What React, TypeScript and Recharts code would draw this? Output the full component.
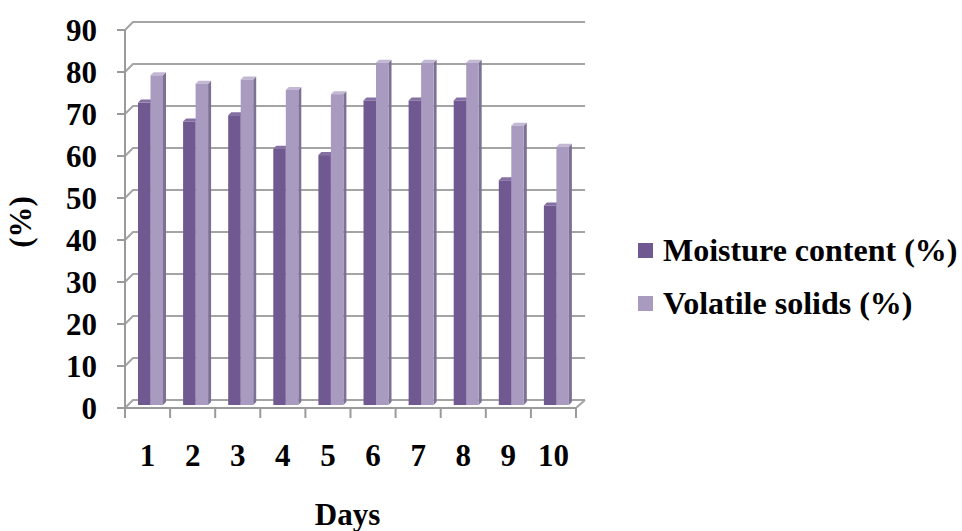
import React from 'react';
import { BarChart, Bar, XAxis, YAxis, CartesianGrid, Legend, Label } from 'recharts';

const days = ['1', '2', '3', '4', '5', '6', '7', '8', '9', '10'];
const moisture = [72, 67.5, 69, 61, 59.5, 72.5, 72.5, 72.5, 53.5, 47.5];
const volatileSolids = [78.5, 76.5, 77.5, 75, 74, 81.5, 81.5, 81.5, 66.5, 61.5];
const yTicks = [0, 10, 20, 30, 40, 50, 60, 70, 80, 90];

const data = days.map((d, i) => ({ day: d, moisture: moisture[i], volatile: volatileSolids[i] }));

const FONT = '"Liberation Serif", "Times New Roman", serif';
const GRID = '#a4a4a4';
const AXIS = '#9a9a9a';
const DEPTH = 8;
const BAR_D = 3;
const PLOT_W = 451;

const make3DBar = (front: string, side: string, top: string) => (props: any) => {
  const { x, y, width, height } = props;
  if (!height || height <= 0) return <g />;
  const fx = x + BAR_D;
  const fy = y - BAR_D;
  const d = BAR_D;
  return (
    <g>
      <polygon
        points={`${fx + width},${fy} ${fx + width + d},${fy - d} ${fx + width + d},${fy + height - d} ${fx + width},${fy + height}`}
        fill={side}
      />
      <polygon
        points={`${fx},${fy} ${fx + d},${fy - d} ${fx + width + d},${fy - d} ${fx + width},${fy}`}
        fill={top}
      />
      <rect x={fx} y={fy} width={width} height={height} fill={front} />
    </g>
  );
};

const gridLine = (props: any) => {
  const { x1, y1, x2, y2, index } = props;
  let d = `M${x1},${y1} L${x1 + DEPTH},${y1 - DEPTH} L${x2 + DEPTH + 1},${y2 - DEPTH}`;
  if (y1 >= 405) {
    d += ` M${x2},${y2} L${x2 + DEPTH + 1},${y2 - DEPTH}`;
  }
  return <path key={`g-${index}`} d={d} stroke={GRID} strokeWidth={2} fill="none" />;
};

const XTick = (props: any) => {
  const { x, y, payload, index } = props;
  const step = PLOT_W / days.length;
  const axisY = y;
  const left = x - step / 2;
  const right = x + step / 2;
  return (
    <g>
      <line x1={left} y1={axisY} x2={left} y2={axisY + 10} stroke={AXIS} strokeWidth={2} />
      {index === days.length - 1 && (
        <line x1={right} y1={axisY} x2={right} y2={axisY + 10} stroke={AXIS} strokeWidth={2} />
      )}
      <text
        x={x}
        y={axisY + 58}
        textAnchor="middle"
        fontFamily={FONT}
        fontWeight="bold"
        fontSize={31}
        fill="#000"
      >
        {payload.value}
      </text>
    </g>
  );
};

const LegendContent = (props: any) => {
  const payload = props.payload || [];
  return (
    <div style={{ fontFamily: FONT, fontWeight: 'bold', fontSize: 32, color: '#000' }}>
      {payload.map((p: any, i: number) => (
        <div key={i} style={{ display: 'flex', alignItems: 'center', height: 53, whiteSpace: 'nowrap' }}>
          <span style={{ display: 'inline-block', width: 15, height: 15, background: p.color, marginRight: 10 }} />
          <span>{p.value}</span>
        </div>
      ))}
    </div>
  );
};

export default function App() {
  return (
    <div style={{ position: 'absolute', left: 0, top: 0, background: '#fff' }}>
      <BarChart
        width={962}
        height={531}
        data={data}
        margin={{ top: 30, right: 386, bottom: 0, left: 0 }}
        barGap={0}
        barSize={12.5}
      >
        <CartesianGrid vertical={false} horizontal={gridLine} />
        <XAxis
          dataKey="day"
          type="category"
          interval={0}
          height={123}
          tick={<XTick />}
          tickSize={0}
          tickMargin={0}
          tickLine={false}
          axisLine={{ stroke: AXIS, strokeWidth: 2 }}
        >
          <Label
            content={(p: any) => {
              const vb = p.viewBox;
              return (
                <text
                  x={vb.x + vb.width / 2 - 3}
                  y={525}
                  textAnchor="middle"
                  fontFamily={FONT}
                  fontWeight="bold"
                  fontSize={31}
                  fill="#000"
                >
                  Days
                </text>
              );
            }}
          />
        </XAxis>
        <YAxis
          type="number"
          domain={[0, 90]}
          ticks={yTicks}
          interval={0}
          width={125}
          tickSize={8}
          tickMargin={20}
          axisLine={{ stroke: AXIS, strokeWidth: 2 }}
          tickLine={{ stroke: AXIS, strokeWidth: 2 }}
          tick={{ fontFamily: FONT, fontWeight: 'bold', fontSize: 31, fill: '#000' }}
        >
          <Label
            content={(p: any) => {
              const vb = p.viewBox;
              const cx = vb.x + 20;
              const cy = vb.y + vb.height / 2 + 3;
              return (
                <text
                  x={cx}
                  y={cy}
                  transform={`rotate(-90, ${cx}, ${cy})`}
                  textAnchor="middle"
                  dominantBaseline="central"
                  fontFamily={FONT}
                  fontWeight="bold"
                  fontSize={31}
                  fill="#000"
                >
                  (%)
                </text>
              );
            }}
          />
        </YAxis>
        <Legend
          layout="vertical"
          align="center"
          verticalAlign="middle"
          wrapperStyle={{ left: 638, top: 224, width: 330 }}
          content={<LegendContent />}
        />
        <Bar
          dataKey="moisture"
          name="Moisture content (%)"
          fill="#705891"
          isAnimationActive={false}
          shape={make3DBar('#705891', '#5a4677', '#8570a3')}
        />
        <Bar
          dataKey="volatile"
          name="Volatile solids (%)"
          fill="#a99bc0"
          isAnimationActive={false}
          shape={make3DBar('#a99bc0', '#7e7196', '#c2b8d4')}
        />
      </BarChart>
    </div>
  );
}
